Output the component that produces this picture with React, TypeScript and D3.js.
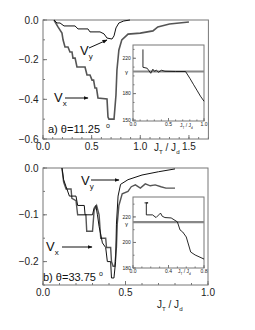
import React from 'react';
import * as d3 from 'd3';

const W = 255;
const H = 330;
const FONT = '"Liberation Sans", Arial, sans-serif';
const AXIS = '#777';
const INK = '#111';

// panel a: theta = 11.25
const aVx: [number, number][] = [
  [0.113, 0], [0.154, -0.035], [0.195, -0.066], [0.206, -0.1], [0.226, -0.136],
  [0.257, -0.136], [0.277, -0.161], [0.298, -0.161], [0.308, -0.192], [0.33, -0.192],
  [0.349, -0.237], [0.432, -0.237], [0.452, -0.277], [0.483, -0.277], [0.504, -0.303],
  [0.52, -0.303], [0.534, -0.343], [0.55, -0.343], [0.565, -0.393], [0.658, -0.398],
  [0.668, -0.489], [0.678, -0.5], [0.73, -0.5], [0.75, -0.378], [0.76, -0.252],
  [0.78, -0.151], [0.81, -0.1], [0.874, -0.071], [1.0, -0.066], [1.13, -0.055],
  [1.18, -0.035], [1.3, -0.02], [1.5, -0.01],
];
const aVy: [number, number][] = [
  [0.113, 0], [0.144, -0.015], [0.175, -0.015], [0.216, -0.03], [0.329, -0.03],
  [0.36, -0.045], [0.462, -0.045], [0.483, -0.06], [0.586, -0.06], [0.627, -0.07],
  [0.658, -0.091], [0.709, -0.096], [0.73, -0.08], [0.75, -0.04], [0.78, -0.015],
  [0.83, -0.005], [0.894, 0],
];
const aGamma: [number, number][] = [
  [0.14, 230], [0.14, 209.8], [0.2, 208.7], [0.22, 206.4], [0.25, 203], [0.28, 207.6],
  [0.3, 205.3], [0.33, 206.4], [0.36, 204.2], [0.4, 206.4], [0.45, 205.3], [0.6, 205],
  [0.74, 205], [0.8, 197.4], [0.85, 190.6], [0.9, 183.9], [0.95, 177.1], [1.0, 171.4],
];
const aGammaRef = 205;

// panel b: theta = 33.75
const bVx: [number, number][] = [
  [0.115, 0], [0.125, -0.03], [0.14, -0.045], [0.17, -0.045], [0.175, -0.065],
  [0.2, -0.07], [0.21, -0.1], [0.26, -0.1], [0.265, -0.135], [0.3, -0.135],
  [0.31, -0.09], [0.325, -0.08], [0.34, -0.1], [0.35, -0.15], [0.38, -0.15],
  [0.385, -0.17], [0.41, -0.17], [0.415, -0.2], [0.425, -0.21], [0.435, -0.21],
  [0.445, -0.17], [0.45, -0.12], [0.46, -0.08], [0.48, -0.055], [0.515, -0.05],
  [0.535, -0.04], [0.56, -0.036], [0.59, -0.043], [0.62, -0.034], [0.65, -0.038],
  [0.68, -0.036], [0.715, -0.04], [0.745, -0.043], [0.8, -0.043],
];
const bVy: [number, number][] = [
  [0.115, 0], [0.125, -0.025], [0.14, -0.04], [0.16, -0.06], [0.2, -0.06],
  [0.21, -0.08], [0.25, -0.08], [0.255, -0.1], [0.3, -0.1], [0.31, -0.085],
  [0.32, -0.08], [0.33, -0.1], [0.34, -0.125], [0.36, -0.16], [0.38, -0.17],
  [0.39, -0.2], [0.41, -0.2], [0.415, -0.235], [0.43, -0.235], [0.44, -0.2],
  [0.445, -0.12], [0.455, -0.06], [0.47, -0.035], [0.515, -0.025], [0.6, -0.015],
  [0.7, -0.008], [0.8, -0.002],
];
const bGamma: [number, number][] = [
  [0.13, 231], [0.17, 231], [0.15, 231], [0.15, 221.6], [0.22, 221.6], [0.26, 219.5],
  [0.29, 221.6], [0.31, 223], [0.33, 220.5], [0.36, 219.5], [0.43, 219.2], [0.5, 216.1],
  [0.53, 209.8], [0.56, 208.2], [0.6, 204.3], [0.62, 199.6], [0.65, 192.5], [0.7, 190.2],
  [0.8, 187],
];
const bGammaRef = 216;

// ticks
const aXTicks = [0, 0.5, 1.0, 1.5];
const aYTicks = [0, -0.2, -0.4, -0.6];
const bXTicks = [0, 0.5, 1.0];
const bYTicks = [0, -0.1, -0.2];
const aInXTicks = [0, 0.5, 1.0];
const aInYTicks = [220, 180, 150];
const bInXTicks = [0, 0.4, 0.8];
const bInYTicks = [220, 200, 180];

type Scale = d3.ScaleLinear<number, number>;

const range = (a: number, b: number, s: number) => d3.range(Math.round((b - a) / s) + 1).map((i) => a + i * s);

function Frame({ x, y, xt, yt, xMinor, yMinor, fs, xfmt, yfmt, tl }: {
  x: Scale; y: Scale; xt: number[]; yt: number[]; xMinor: number[]; yMinor: number[];
  fs: number; xfmt: (v: number) => string; yfmt: (v: number) => string; tl: number;
}) {
  const [x0, x1] = x.range();
  const [y0, y1] = y.range();
  const bottom = Math.max(y0, y1);
  const top = Math.min(y0, y1);
  return (
    <g>
      <rect x={x0} y={top} width={x1 - x0} height={bottom - top} fill="#fff" stroke={AXIS} strokeWidth={1} />
      {xMinor.map((v, i) => (
        <line key={'xm' + i} x1={x(v)} x2={x(v)} y1={bottom} y2={bottom - tl / 2} stroke={AXIS} />
      ))}
      {xt.map((v, i) => (
        <g key={'x' + i}>
          <line x1={x(v)} x2={x(v)} y1={bottom} y2={bottom - tl} stroke={AXIS} />
          <text x={x(v)} y={bottom + fs * 1.05} fontSize={fs} textAnchor="middle" fill="#222">{xfmt(v)}</text>
        </g>
      ))}
      {yMinor.map((v, i) => (
        <line key={'ym' + i} x1={x0} x2={x0 + tl / 2} y1={y(v)} y2={y(v)} stroke={AXIS} />
      ))}
      {yt.map((v, i) => (
        <g key={'y' + i}>
          <line x1={x0} x2={x0 + tl} y1={y(v)} y2={y(v)} stroke={AXIS} />
          <text x={x0 - fs * 0.45} y={y(v) + fs * 0.35} fontSize={fs} textAnchor="end" fill="#222">{yfmt(v)}</text>
        </g>
      ))}
    </g>
  );
}

function JTitle({ x, y, fs }: { x: number; y: number; fs: number }) {
  const s = fs * 0.62;
  return (
    <text x={x} y={y} fontSize={fs} fill="#222">
      J<tspan fontSize={s} dy={fs * 0.3}>T</tspan>
      <tspan dy={-fs * 0.3}> / J</tspan>
      <tspan fontSize={s} dy={fs * 0.3}>d</tspan>
    </text>
  );
}

function VLabel({ x, y, sub }: { x: number; y: number; sub: string }) {
  return (
    <text x={x} y={y} fontSize={13} fill="#111">
      V<tspan fontSize={8} dy={4}>{sub}</tspan>
    </text>
  );
}

export default function App() {
  const f1 = d3.format('.1f');
  const line = (x: Scale, y: Scale) => d3.line<[number, number]>().x((d) => x(d[0])).y((d) => y(d[1]));

  // panel a
  const ax = d3.scaleLinear().domain([0, 1.7]).range([43, 208.4]);
  const ay = d3.scaleLinear().domain([-0.6, 0]).range([139, 20]);
  const aix = d3.scaleLinear().domain([0, 1.0]).range([133, 204]);
  const aiy = d3.scaleLinear().domain([149, 235]).range([121, 45]);
  // panel b
  const bx = d3.scaleLinear().domain([0, 1.0]).range([43, 208]);
  const by = d3.scaleLinear().domain([-0.25, 0]).range([285, 168]);
  const bix = d3.scaleLinear().domain([0, 0.8]).range([133, 204]);
  const biy = d3.scaleLinear().domain([180, 235.6]).range([268, 197]);

  const aL = line(ax, ay);
  const bL = line(bx, by);

  return (
    <svg width={W} height={H} style={{ position: 'absolute', left: 0, top: 0, fontFamily: FONT }}>
      <defs>
        <marker id="arr" viewBox="0 0 10 10" refX={9} refY={5} markerWidth={5} markerHeight={5} orient="auto">
          <path d="M0,1 L10,5 L0,9 z" fill="#111" />
        </marker>
      </defs>
      <rect width={W} height={H} fill="#fff" />

      {/* panel a */}
      <Frame x={ax} y={ay} xt={aXTicks} yt={aYTicks} xMinor={range(0, 1.7, 0.1)} yMinor={range(-0.6, 0, 0.1)}
        fs={10} xfmt={f1} yfmt={f1} tl={4} />
      <path d={aL(aVx) || ''} fill="none" stroke="#555" strokeWidth={1.6} />
      <path d={aL(aVy) || ''} fill="none" stroke={INK} strokeWidth={1} />
      <JTitle x={154} y={151} fs={10} />
      <VLabel x={80} y={55} sub="y" />
      <line x1={89} y1={48} x2={107} y2={40} stroke="#111" strokeWidth={1} markerEnd="url(#arr)" />
      <VLabel x={54} y={102} sub="x" />
      <line x1={65} y1={98} x2={88} y2={98} stroke="#111" strokeWidth={1} markerEnd="url(#arr)" />
      <text x={48} y={133} fontSize={11} fill="#111">a) θ=11.25</text>
      <text x={106} y={128} fontSize={7} fill="#111">o</text>

      {/* inset a */}
      <Frame x={aix} y={aiy} xt={aInXTicks} yt={aInYTicks} xMinor={range(0, 1.0, 0.1)} yMinor={range(150, 230, 10)}
        fs={5} xfmt={f1} yfmt={d3.format('d')} tl={3} />
      <line x1={aix(0)} x2={aix(1)} y1={aiy(aGammaRef)} y2={aiy(aGammaRef)} stroke="#888" strokeWidth={2.2} />
      <path d={line(aix, aiy)(aGamma) || ''} fill="none" stroke={INK} strokeWidth={0.9} />
      <text x={128} y={aiy(aGammaRef) + 2} fontSize={6} textAnchor="end" fill="#222">γ</text>
      <JTitle x={180} y={127} fs={5} />

      {/* panel b */}
      <Frame x={bx} y={by} xt={bXTicks} yt={bYTicks} xMinor={range(0, 1.0, 0.1)} yMinor={range(-0.25, 0, 0.05)}
        fs={10} xfmt={f1} yfmt={f1} tl={4} />
      <path d={bL(bVx) || ''} fill="none" stroke="#555" strokeWidth={1.4} />
      <path d={bL(bVy) || ''} fill="none" stroke={INK} strokeWidth={1} />
      <JTitle x={157} y={308} fs={10} />
      <VLabel x={81} y={185} sub="y" />
      <line x1={91} y1={180} x2={119} y2={180} stroke="#111" strokeWidth={1} markerEnd="url(#arr)" />
      <VLabel x={46} y={251} sub="x" />
      <line x1={62} y1={247} x2={92} y2={247} stroke="#111" strokeWidth={1} markerEnd="url(#arr)" />
      <text x={43} y={281} fontSize={11} fill="#111">b) θ=33.75</text>
      <text x={99} y={276} fontSize={7} fill="#111">o</text>

      {/* inset b */}
      <Frame x={bix} y={biy} xt={bInXTicks} yt={bInYTicks} xMinor={range(0, 0.8, 0.1)} yMinor={range(180, 230, 10)}
        fs={5} xfmt={f1} yfmt={d3.format('d')} tl={3} />
      <line x1={bix(0)} x2={bix(0.8)} y1={biy(bGammaRef)} y2={biy(bGammaRef)} stroke="#888" strokeWidth={2.2} />
      <path d={line(bix, biy)(bGamma) || ''} fill="none" stroke={INK} strokeWidth={0.9} />
      <text x={128} y={biy(bGammaRef) + 4} fontSize={6} textAnchor="end" fill="#222">γ</text>
      <JTitle x={178} y={273} fs={5} />
    </svg>
  );
}
